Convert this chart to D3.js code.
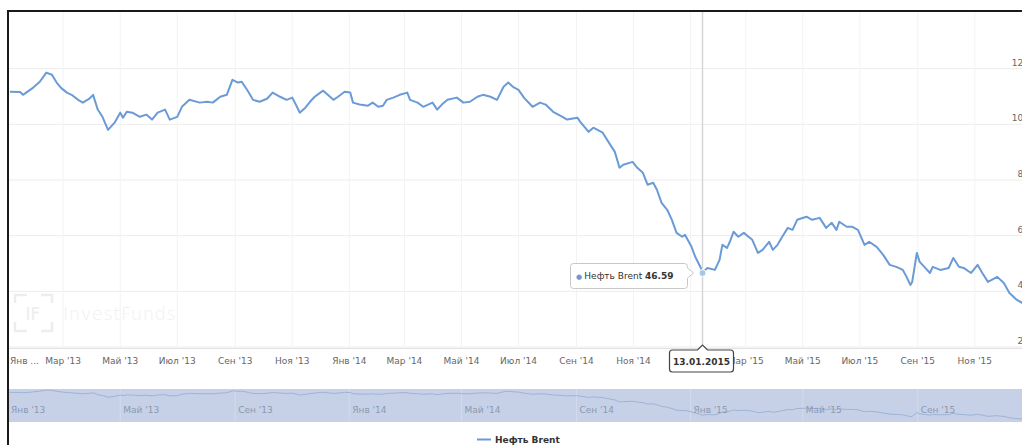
<!DOCTYPE html>
<html>
<head>
<meta charset="utf-8">
<script src="https://cdn.jsdelivr.net/npm/d3@7"></script>
<style>
body { margin: 0; overflow: hidden; background: #fff; }
svg { display: block; font-family: "DejaVu Sans", sans-serif; }
</style>
</head>
<body>
<div id="chart"></div>
<script>
// Brent, USD / bbl
const dates = [
    "2013-01-03","2013-01-14","2013-01-17","2013-01-28","2013-02-04","2013-02-11","2013-02-17","2013-02-22","2013-02-27",
    "2013-03-05","2013-03-10","2013-03-17","2013-03-22","2013-03-29","2013-04-02","2013-04-07","2013-04-12","2013-04-18",
    "2013-04-25","2013-05-01","2013-05-04","2013-05-08","2013-05-14","2013-05-22","2013-05-29","2013-06-04","2013-06-10",
    "2013-06-18","2013-06-23","2013-07-01","2013-07-06","2013-07-14","2013-07-25","2013-08-02","2013-08-08","2013-08-16",
    "2013-08-23","2013-08-29","2013-09-04","2013-09-08","2013-09-15","2013-09-20","2013-09-27","2013-10-05","2013-10-11",
    "2013-10-19","2013-10-26","2013-11-01","2013-11-06","2013-11-09","2013-11-15","2013-11-20","2013-11-25","2013-12-01",
    "2013-12-04","2013-12-09","2013-12-15","2013-12-20","2013-12-27","2014-01-02","2014-01-05","2014-01-12","2014-01-21",
    "2014-01-26","2014-02-01","2014-02-06","2014-02-10","2014-02-17","2014-02-24","2014-03-04","2014-03-07","2014-03-15",
    "2014-03-21","2014-03-31","2014-04-05","2014-04-10","2014-04-16","2014-04-26","2014-05-03","2014-05-10","2014-05-18",
    "2014-05-24","2014-06-01","2014-06-08","2014-06-15","2014-06-20","2014-06-25","2014-07-01","2014-07-07","2014-07-16",
    "2014-07-24","2014-07-30","2014-08-07","2014-08-17","2014-08-22","2014-09-02","2014-09-05","2014-09-14","2014-09-19",
    "2014-09-29","2014-10-07","2014-10-12","2014-10-17","2014-10-21","2014-10-31","2014-11-05","2014-11-11","2014-11-16",
    "2014-11-22","2014-11-26","2014-12-01","2014-12-07","2014-12-12","2014-12-17","2014-12-23","2014-12-26","2015-01-02",
    "2015-01-06","2015-01-12","2015-01-13","2015-01-19","2015-01-27","2015-02-01","2015-02-04","2015-02-09","2015-02-12",
    "2015-02-16","2015-02-21","2015-02-27","2015-03-04","2015-03-08","2015-03-14","2015-03-19","2015-03-26","2015-03-30",
    "2015-04-04","2015-04-09","2015-04-15","2015-04-20","2015-04-25","2015-05-05","2015-05-11","2015-05-19","2015-05-26",
    "2015-06-01","2015-06-06","2015-06-09","2015-06-17","2015-06-23","2015-06-29","2015-07-06","2015-07-11","2015-07-19",
    "2015-07-26","2015-08-02","2015-08-09","2015-08-16","2015-08-20","2015-08-24","2015-08-26","2015-08-31","2015-09-03",
    "2015-09-08","2015-09-14","2015-09-17","2015-09-25","2015-10-04","2015-10-09","2015-10-15","2015-10-20","2015-10-28",
    "2015-11-04","2015-11-09","2015-11-15","2015-11-25","2015-12-02","2015-12-08","2015-12-16","2015-12-22"
]
const brent = [
    111.7,111.6,110.6,113.2,115.3,118.6,117.8,115.0,113.0,
    111.4,110.6,108.8,107.8,109.2,110.6,105.3,102.7,98.0,
    100.6,104.2,102.4,104.5,104.2,102.7,103.5,101.7,104.2,
    105.3,101.7,102.7,106.3,108.8,107.8,108.1,107.8,109.9,
    110.6,116.0,115.0,115.3,111.7,108.8,108.1,109.2,111.4,
    109.9,108.8,109.6,106.3,104.2,106.0,108.1,109.9,111.4,
    112.1,110.6,108.8,109.9,111.7,111.4,107.8,107.1,106.7,
    107.8,106.3,106.7,108.8,109.6,110.6,111.4,108.8,107.8,
    106.3,107.8,105.3,107.1,108.8,109.6,107.8,108.1,109.9,
    110.6,109.9,108.8,113.5,115.0,113.5,112.4,109.5,106.3,
    107.8,107.1,104.5,102.7,101.7,102.4,100.9,97.3,98.8,
    97.0,92.7,90.1,84.4,85.5,86.5,84.4,82.6,78.3,
    79.0,76.5,71.8,69.3,65.7,61.0,59.6,60.3,56.0,
    52.4,48.4,46.59,48.4,47.7,51.3,56.7,55.6,57.8,
    61.4,59.6,61.0,59.6,58.5,53.8,54.9,57.8,54.9,
    56.7,59.6,62.8,62.1,65.7,66.8,65.7,66.4,62.8,
    64.6,62.1,65.0,63.2,63.2,62.1,56.7,57.8,56.0,
    53.1,49.5,48.8,47.7,45.2,42.3,43.4,53.8,50.6,
    48.8,46.6,48.8,47.7,48.4,52.0,48.8,48.4,46.6,
    49.5,46.6,43.4,45.2,43.0,39.4,36.9,35.8
]
const monthNames = ["Янв","Фев","Мар","Апр","Май","Июн","Июл","Авг","Сен","Окт","Ноя","Дек"]
const yTicks = [20, 40, 60, 80, 100, 120]
const seriesName = "Нефть Brent"
const hoverDate = "2015-01-13"
const hoverLabel = "13.01.2015"
const watermarkText = "InvestFunds"

class BrentChart {

    constructor(parent, width, height) {
        this.parent = parent
        this.width = width
        this.height = height

        this.lineColor = "#6a9bd6"
        this.gridColor = "#ececec"
        this.labelColor = "#666"
        this.plot = {left: 8, right: 1030, top: 11, bottom: 348}
        this.nav = {top: 389, bottom: 422}
    }

    init() {
        this.svg = d3.select(this.parent).append("svg")
            .attr("width", this.width)
            .attr("height", this.height)

        this.parse = d3.timeParse("%Y-%m-%d")
        this.data = dates.map((d, i) => ({date: this.parse(d), value: brent[i]}))

        this.x = d3.scaleTime()
            .domain([new Date(2013, 0, 1), new Date(2015, 11, 30)])
            .range([this.plot.left, this.plot.right])
        this.y = d3.scaleLinear()
            .domain([20, 140])
            .range([347, 13])

        this.drawWatermark()
        this.drawGrid()
        this.drawLine()
        this.drawNavigator()
        this.drawLegend()
        this.drawHover()
        this.drawFrame()
    }

    tickText(d) {
        return monthNames[d.getMonth()] + " '" + d3.timeFormat("%y")(d)
    }

    drawWatermark() {
        const g = this.svg.append("g").attr("fill", "none").attr("stroke", "#ededed").attr("stroke-width", 2.5)
        // bracket-like square around "IF"
        g.append("path").attr("d", "M15,303 V295 H27 M41,295 H52 V303 M52,322 V331 H41 M27,331 H15 V322")
        this.svg.append("text")
            .attr("x", 33).attr("y", 320)
            .attr("text-anchor", "middle")
            .attr("font-size", 17)
            .attr("fill", "#ededed")
            .text("IF")
        this.svg.append("text")
            .attr("x", 63).attr("y", 320)
            .attr("font-size", 18)
            .attr("font-weight", 300)
            .attr("letter-spacing", 0.5)
            .attr("fill", "#efefef")
            .text(watermarkText)
    }

    drawGrid() {
        const xTicks = d3.timeMonth.every(2).range(new Date(2013, 0, 1), new Date(2015, 11, 31))

        this.svg.append("g")
            .selectAll("line")
            .data(yTicks)
            .join("line")
                .attr("x1", this.plot.left).attr("x2", this.plot.right)
                .attr("y1", d => this.y(d)).attr("y2", d => this.y(d))
                .attr("stroke", this.gridColor)

        this.svg.append("g")
            .selectAll("line")
            .data(xTicks)
            .join("line")
                .attr("x1", d => this.x(d)).attr("x2", d => this.x(d))
                .attr("y1", this.plot.top).attr("y2", this.plot.bottom)
                .attr("stroke", "#f3f3f3")

        this.svg.append("line")
            .attr("x1", this.plot.left).attr("x2", this.plot.right)
            .attr("y1", this.plot.bottom + 0.5).attr("y2", this.plot.bottom + 0.5)
            .attr("stroke", "#e2e2e2")

        this.svg.append("g")
            .selectAll("text")
            .data(yTicks)
            .join("text")
                .attr("x", 1029)
                .attr("y", d => this.y(d) - 3)
                .attr("text-anchor", "end")
                .attr("font-size", 9)
                .attr("fill", this.labelColor)
                .text(d => d)

        this.svg.append("g")
            .selectAll("text")
            .data(xTicks)
            .join("text")
                .attr("x", (d, i) => i == 0 ? 10 : this.x(d))
                .attr("y", 364)
                .attr("text-anchor", (d, i) => i == 0 ? "start" : "middle")
                .attr("font-size", 9)
                .attr("fill", this.labelColor)
                .text((d, i) => i == 0 ? monthNames[0] + " ..." : this.tickText(d))
    }

    drawLine() {
        const line = d3.line()
            .x(d => this.x(d.date))
            .y(d => this.y(d.value))

        this.svg.append("path")
            .datum(this.data)
            .attr("fill", "none")
            .attr("stroke", this.lineColor)
            .attr("stroke-width", 2)
            .attr("stroke-linejoin", "round")
            .attr("d", line)
    }

    drawNavigator() {
        const navY = d3.scaleLinear()
            .domain(d3.extent(brent))
            .range([this.nav.bottom - 3, this.nav.top + 1])
        const navTicks = d3.timeMonth.every(4).range(new Date(2013, 0, 1), new Date(2015, 11, 31))

        this.svg.append("rect")
            .attr("x", this.plot.left).attr("y", this.nav.top)
            .attr("width", this.plot.right - this.plot.left)
            .attr("height", this.nav.bottom - this.nav.top)
            .attr("fill", "#c6d1e7")

        this.svg.append("g")
            .selectAll("line")
            .data(navTicks)
            .join("line")
                .attr("x1", d => this.x(d)).attr("x2", d => this.x(d))
                .attr("y1", this.nav.top).attr("y2", this.nav.bottom)
                .attr("stroke", "#d2dbec")

        this.svg.append("path")
            .datum(this.data)
            .attr("fill", "none")
            .attr("stroke", "#9fb3d6")
            .attr("stroke-width", 1)
            .attr("d", d3.line().x(d => this.x(d.date)).y(d => navY(d.value)))

        this.svg.append("g")
            .selectAll("text")
            .data(navTicks)
            .join("text")
                .attr("x", d => this.x(d) + 3)
                .attr("y", 413)
                .attr("font-size", 9)
                .attr("fill", "#8c98b0")
                .text(d => this.tickText(d))
    }

    drawLegend() {
        this.svg.append("line")
            .attr("x1", 477).attr("x2", 491)
            .attr("y1", 439.5).attr("y2", 439.5)
            .attr("stroke", this.lineColor)
            .attr("stroke-width", 2)
        this.svg.append("text")
            .attr("x", 495).attr("y", 443)
            .attr("font-size", 9)
            .attr("font-weight", "bold")
            .attr("fill", "#333")
            .text(seriesName)
    }

    drawHover() {
        const d = this.data.find(p => dates[this.data.indexOf(p)] == hoverDate)
        const px = Math.round(this.x(d.date)) + 0.5
        const py = this.y(d.value)

        // crosshair
        this.svg.append("line")
            .attr("x1", px).attr("x2", px)
            .attr("y1", this.plot.top).attr("y2", this.plot.bottom)
            .attr("stroke", "#d6d6d6")
            .attr("stroke-width", 1.5)

        this.svg.append("circle")
            .attr("cx", px).attr("cy", py)
            .attr("r", 3.5)
            .attr("fill", "#a9c6ea")
            .attr("stroke", "#fff")
            .attr("stroke-width", 1)

        // tooltip callout, pointing right to the point
        const bx0 = 570.5, bx1 = 687.5, by0 = 263.5, by1 = 288.5, r = 3
        const callout = `M${bx0 + r},${by0} H${bx1 - r} Q${bx1},${by0} ${bx1},${by0 + r}
            V${py - 5} L${bx1 + 6},${py} L${bx1},${py + 5} V${by1 - r} Q${bx1},${by1} ${bx1 - r},${by1}
            H${bx0 + r} Q${bx0},${by1} ${bx0},${by1 - r} V${by0 + r} Q${bx0},${by0} ${bx0 + r},${by0} Z`
        this.svg.append("path")
            .attr("d", callout)
            .attr("fill", "rgba(255,255,255,0.95)")
            .attr("stroke", "#c8c8c8")
            .attr("stroke-width", 1)

        const tip = this.svg.append("text")
            .attr("x", 576).attr("y", 279)
            .attr("font-size", 9)
            .attr("fill", "#333")
        tip.append("tspan").attr("fill", this.lineColor).attr("font-size", 7).text("● ")
        tip.append("tspan").text(seriesName + " ")
        tip.append("tspan").attr("font-weight", "bold").text(d.value.toFixed(2))

        // date label on the x axis
        const lx0 = 669.5, lx1 = 733.5, ly0 = 350, ly1 = 372
        const label = `M${lx0 + r},${ly0} H${px - 5} L${px},${ly0 - 5} L${px + 5},${ly0} H${lx1 - r}
            Q${lx1},${ly0} ${lx1},${ly0 + r} V${ly1 - r} Q${lx1},${ly1} ${lx1 - r},${ly1}
            H${lx0 + r} Q${lx0},${ly1} ${lx0},${ly1 - r} V${ly0 + r} Q${lx0},${ly0} ${lx0 + r},${ly0} Z`
        this.svg.append("path")
            .attr("d", label)
            .attr("fill", "#fff")
            .attr("stroke", "#444")
            .attr("stroke-width", 1.2)
        this.svg.append("text")
            .attr("x", (lx0 + lx1) / 2).attr("y", 365)
            .attr("text-anchor", "middle")
            .attr("font-size", 9)
            .attr("font-weight", "bold")
            .attr("fill", "#333")
            .text(hoverLabel)
    }

    drawFrame() {
        this.svg.append("path")
            .attr("d", `M8,${this.height} V11 H${this.width}`)
            .attr("fill", "none")
            .attr("stroke", "#1a1a1a")
            .attr("stroke-width", 2)
    }
}

const chart = new BrentChart("#chart", 1022, 445)
chart.init()
</script>
</body>
</html>
